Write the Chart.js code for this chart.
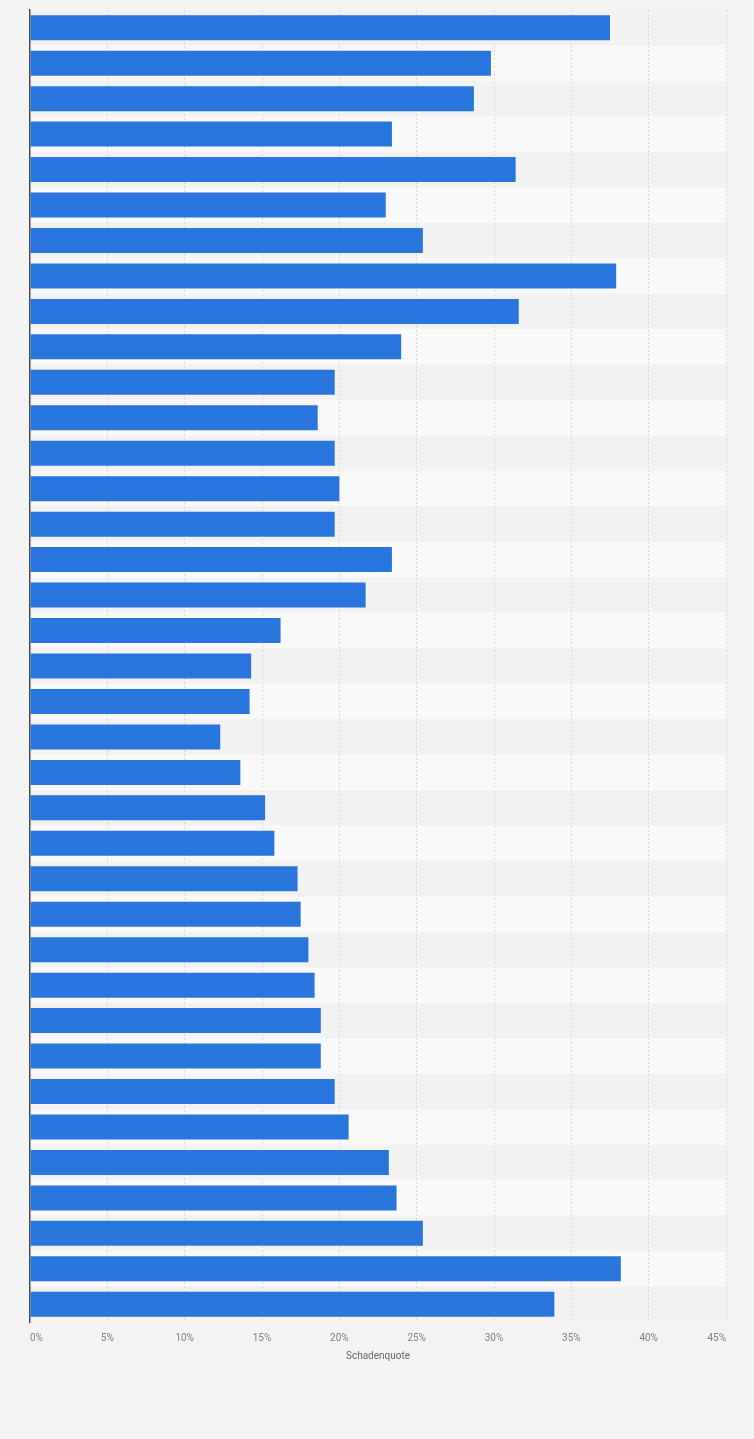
<!DOCTYPE html>
<html lang="de">
<head>
<meta charset="utf-8">
<title>Schadenquote</title>
<script src="https://cdn.jsdelivr.net/npm/chart.js@4.4.1/dist/chart.umd.min.js"></script>
<style>
  html, body { margin: 0; padding: 0; background: #f3f3f3; }
  #wrap { position: relative; width: 754px; height: 1439px; }
</style>
</head>
<body>
<div id="wrap"><canvas id="chart"></canvas></div>
<script>
// categories are not labelled in the picture
const categories = [
  "1", "2", "3", "4", "5", "6", "7", "8", "9", "10",
  "11", "12", "13", "14", "15", "16", "17", "18", "19", "20",
  "21", "22", "23", "24", "25", "26", "27", "28", "29", "30",
  "31", "32", "33", "34", "35", "36", "37",
];
const lossRatio = [
  37.5, 29.8, 28.7, 23.4, 31.4, 23.0, 25.4, 37.9, 31.6, 24.0,
  19.7, 18.6, 19.7, 20.0, 19.7, 23.4, 21.7, 16.2, 14.3, 14.2,
  12.3, 13.6, 15.2, 15.8, 17.3, 17.5, 18.0, 18.4, 18.8, 18.8,
  19.7, 20.6, 23.2, 23.7, 25.4, 38.2, 33.9,
];
const xMin = 0;
const xMax = 45;
const xStep = 5;
const xTitle = "Schadenquote";

const BAR = "#2876dd";
const BAND = "#f9f9f9";
const BAND_ALT = "#f2f2f2";

// alternating row bands, drawn before the grid so the dotted lines stay on top
const rowBands = {
  id: "rowBands",
  beforeDraw(chart) {
    const { ctx, chartArea } = chart;
    const y = chart.scales.y;
    const half = (y.getPixelForValue(1) - y.getPixelForValue(0)) / 2;
    ctx.save();
    categories.forEach((c, i) => {
      const mid = y.getPixelForValue(i);
      ctx.fillStyle = i % 2 ? BAND : BAND_ALT;
      ctx.fillRect(chartArea.left, mid - half, chartArea.right - chartArea.left, half * 2);
    });
    ctx.restore();
  },
};

new Chart(document.getElementById("chart"), {
  type: "bar",
  data: {
    labels: categories,
    datasets: [{
      data: lossRatio,
      backgroundColor: BAR,
      borderWidth: 0,
      categoryPercentage: 1,
      barPercentage: 0.705,
    }],
  },
  options: {
    indexAxis: "y",
    responsive: true,
    maintainAspectRatio: false,
    animation: false,
    layout: { padding: { left: 30, right: 28, top: 10, bottom: 77 } },
    plugins: { legend: { display: false }, tooltip: { enabled: false } },
    scales: {
      y: {
        ticks: { display: false },
        grid: { display: false },
        border: { display: true, color: "#4a4a4a", width: 1.5 },
        afterFit(scale) { scale.width = 0; },
      },
      x: {
        min: xMin,
        max: xMax,
        ticks: {
          stepSize: xStep,
          align: "inner",
          padding: 10,
          color: "#808080",
          font: { family: "Roboto", size: 10 },
          callback: (v) => `${v}%`,
        },
        grid: {
          color: (c) => (c.tick && c.tick.value === 0 ? "rgba(0,0,0,0)" : "#dadada"),
          lineWidth: 1,
          drawTicks: false,
        },
        border: { display: false, dash: [2, 2] },
        title: {
          display: true,
          text: xTitle,
          color: "#666",
          font: { family: "Roboto", size: 10 },
          padding: { top: 4, bottom: 0 },
        },
        afterFit(scale) { scale.height = 40; },
      },
    },
  },
  plugins: [rowBands],
});
</script>
</body>
</html>
